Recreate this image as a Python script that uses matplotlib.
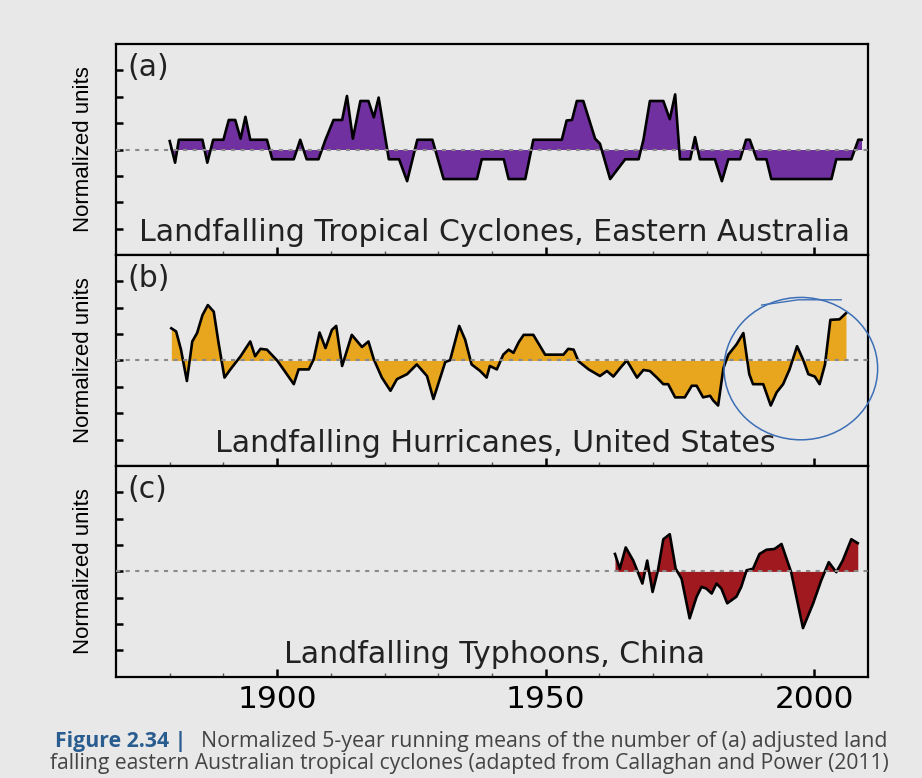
import matplotlib.pyplot as plt
import numpy as np
from matplotlib.patches import Ellipse

# (a) Eastern Australia tropical cyclones
years_a = [1880.0, 1881.0, 1881.7, 1886.1, 1887.0, 1888.1, 1890.0, 1891.0, 1892.2, 1893.2,
           1894.1, 1895.0, 1898.1, 1899.1, 1903.1, 1904.3, 1905.5, 1907.7, 1909.0, 1910.5,
           1912.1, 1913.0, 1914.1, 1915.5, 1917.0, 1918.0, 1918.9, 1920.8, 1922.7, 1924.2,
           1926.1, 1928.9, 1931.0, 1937.2, 1938.1, 1942.2, 1943.1, 1946.2, 1947.7, 1953.0,
           1953.9, 1954.9, 1955.8, 1957.0, 1959.2, 1960.1, 1962.0, 1964.8, 1967.3, 1968.2,
           1969.4, 1971.9, 1973.1, 1974.1, 1975.0, 1976.9, 1977.8, 1978.7, 1981.5, 1982.8,
           1984.0, 1986.2, 1987.3, 1988.0, 1989.3, 1991.1, 1992.0, 2003.2, 2004.1, 2006.9,
           2008.2, 2008.8]
vals_a = [0.32, -0.5, 0.37, 0.37, -0.5, 0.37, 0.37, 1.12, 1.12, 0.41,
          1.24, 0.37, 0.37, -0.37, -0.37, 0.37, -0.37, -0.37, 0.37, 1.12,
          1.12, 2.03, 0.41, 1.84, 1.84, 1.22, 1.97, -0.37, -0.37, -1.2,
          0.37, 0.37, -1.12, -1.12, -0.37, -0.37, -1.12, -1.12, 0.37, 0.37,
          1.1, 1.12, 1.84, 1.84, 0.41, 0.22, -1.12, -0.37, -0.37, 0.37,
          1.84, 1.84, 1.15, 2.09, -0.37, -0.37, 0.47, -0.37, -0.37, -1.2,
          -0.37, -0.37, 0.37, 0.37, -0.37, -0.37, -1.12, -1.12, -0.37, -0.37,
          0.37, 0.37]

# (b) United States hurricanes
years_b = [1880.3, 1881.2, 1882.1, 1883.2, 1884.2, 1885.1, 1886.1, 1887.1, 1888.2, 1889.1,
           1890.2, 1891.3, 1893.2, 1895.0, 1895.9, 1896.9, 1898.1, 1900.0, 1901.8, 1903.1,
           1904.0, 1905.9, 1906.8, 1907.9, 1909.0, 1910.2, 1911.0, 1912.1, 1913.9, 1915.8,
           1917.0, 1918.0, 1919.5, 1921.1, 1922.3, 1924.2, 1926.0, 1927.9, 1929.1, 1931.3,
           1932.2, 1933.9, 1935.0, 1936.2, 1937.8, 1939.0, 1939.6, 1940.9, 1942.1, 1943.1,
           1944.0, 1945.0, 1945.9, 1947.7, 1949.9, 1953.3, 1954.2, 1955.2, 1956.1, 1958.0,
           1960.1, 1961.4, 1962.6, 1963.9, 1965.1, 1967.0, 1968.2, 1969.4, 1970.7, 1971.9,
           1972.8, 1974.1, 1975.9, 1977.2, 1978.1, 1979.3, 1980.6, 1981.2, 1982.1, 1983.1,
           1984.0, 1985.5, 1986.8, 1987.9, 1988.6, 1990.5, 1991.9, 1993.0, 1994.2, 1995.4,
           1996.8, 1997.9, 1998.9, 2000.1, 2001.0, 2002.0, 2003.0, 2004.7, 2005.9]
vals_b = [1.22, 1.1, 0.41, -0.78, 0.72, 1.04, 1.72, 2.1, 1.85, 0.66,
          -0.65, -0.34, 0.16, 0.72, 0.16, 0.44, 0.41, 0.0, -0.52, -0.9,
          -0.34, -0.34, 0.04, 1.06, 0.47, 1.16, 1.31, -0.21, 0.97, 0.51,
          0.72, 0.04, -0.65, -1.15, -0.71, -0.52, -0.15, -0.59, -1.46, -0.06,
          0.01, 1.31, 0.79, -0.15, -0.4, -0.65, -0.21, -0.34, 0.22, 0.41,
          0.29, 0.7, 0.97, 0.97, 0.22, 0.22, 0.44, 0.41, -0.03, -0.34,
          -0.59, -0.4, -0.61, -0.28, 0.0, -0.65, -0.36, -0.4, -0.65, -0.9,
          -0.9, -1.4, -1.4, -0.96, -0.96, -1.4, -1.34, -1.52, -1.71, -0.28,
          0.22, 0.6, 1.04, -0.52, -0.9, -0.9, -1.71, -1.21, -0.9, -0.34,
          0.54, 0.04, -0.52, -0.61, -0.9, -0.15, 1.54, 1.56, 1.79]

# (c) China typhoons
years_c = [1962.9, 1963.8, 1964.9, 1966.3, 1968.0, 1968.9, 1969.9, 1970.9, 1971.9, 1973.1,
           1974.2, 1975.3, 1976.8, 1978.1, 1979.0, 1979.9, 1980.9, 1981.8, 1982.7, 1983.8,
           1985.5, 1986.4, 1987.4, 1988.6, 1989.8, 1991.1, 1992.6, 1993.9, 1995.7, 1997.9,
           1999.8, 2001.3, 2002.7, 2004.1, 2005.3, 2006.9, 2008.1]
vals_c = [0.66, 0.1, 0.91, 0.41, -0.46, 0.41, -0.78, 0.04, 1.22, 1.41,
          0.1, -0.28, -1.78, -0.96, -0.59, -0.65, -0.84, -0.46, -0.65, -1.21,
          -0.96, -0.59, 0.04, 0.1, 0.66, 0.82, 0.85, 1.04, -0.03, -2.15,
          -1.21, -0.34, 0.35, -0.03, 0.41, 1.22, 1.07]

labels = ["(a)", "(b)", "(c)"]
titles = ["Landfalling Tropical Cyclones, Eastern Australia",
          "Landfalling Hurricanes, United States",
          "Landfalling Typhoons, China"]
colors = ["#70309f", "#e8a51e", "#a0191e"]
series = [(years_a, vals_a), (years_b, vals_b), (years_c, vals_c)]

bg = "#e8e8e8"
fig, axes = plt.subplots(3, 1, sharex=True, figsize=(9.22, 7.78), dpi=100, facecolor=bg)
fig.subplots_adjust(left=0.1258, right=0.9414, bottom=0.130, top=0.9434, hspace=0)

for ax, (x, y), col, lab, tit in zip(axes, series, colors, labels, titles):
    ax.set_facecolor(bg)
    x = np.array(x)
    y = np.array(y)
    ax.fill_between(x, y, 0, color=col, lw=0, zorder=2)
    ax.plot(x, y, color="black", lw=1.9, zorder=3)
    ax.axhline(0, color="#8a8a8a", lw=1.5, dashes=(2, 2.6), zorder=4)
    ax.set_xlim(1870, 2010)
    ax.set_ylim(-4, 4)
    ax.set_yticks(range(-3, 4))
    ax.set_yticklabels([])
    ax.set_xticks([1900, 1950, 2000])
    ax.set_xticks(np.arange(1880, 2010, 10), minor=True)
    ax.tick_params(axis="both", which="both", direction="in", top=False, right=False)
    ax.tick_params(axis="y", length=5, width=1.8)
    ax.tick_params(axis="x", which="major", length=6, width=1.8, labelsize=22.5, pad=6)
    ax.tick_params(axis="x", which="minor", length=3, width=1, color="#555555")
    for s in ax.spines.values():
        s.set_linewidth(1.6)
    ax.set_ylabel("Normalized units", fontsize=16, family="Liberation Sans", labelpad=12)
    ax.text(0.015, 0.89, lab, transform=ax.transAxes, fontsize=21.5, va="center", ha="left",
            color="#222222")
    ax.text(0.504, 0.105, tit, transform=ax.transAxes, fontsize=21.6, va="center", ha="center",
            color="#222222")

# hand-drawn circle around the recent US hurricane values
axes[1].add_patch(Ellipse((1997.5, -0.31), 28.6, 5.4, fill=False, ec="#3d6fb6", lw=1.1,
                          clip_on=False, zorder=6))
axes[1].plot([1990.2, 1997.0, 2005.0], [2.1, 2.3, 2.3], color="#3d6fb6", lw=1.0,
             clip_on=False, zorder=6)

fig.text(55 / 922, 1 - 741 / 778, "Figure 2.34 |", fontsize=15.3, fontweight="bold",
         color="#2a5d8f", family="Open Sans", va="center", ha="left")
fig.text(201 / 922, 1 - 741 / 778,
         "Normalized 5-year running means of the number of (a) adjusted land",
         fontsize=15.4, color="#444444", family="Open Sans", va="center", ha="left")
fig.text(50 / 922, 1 - 763 / 778,
         "falling eastern Australian tropical cyclones (adapted from Callaghan and Power (2011)",
         fontsize=15.2, color="#444444", family="Open Sans", va="center", ha="left")

plt.savefig("out.png", dpi=100, facecolor=bg)
